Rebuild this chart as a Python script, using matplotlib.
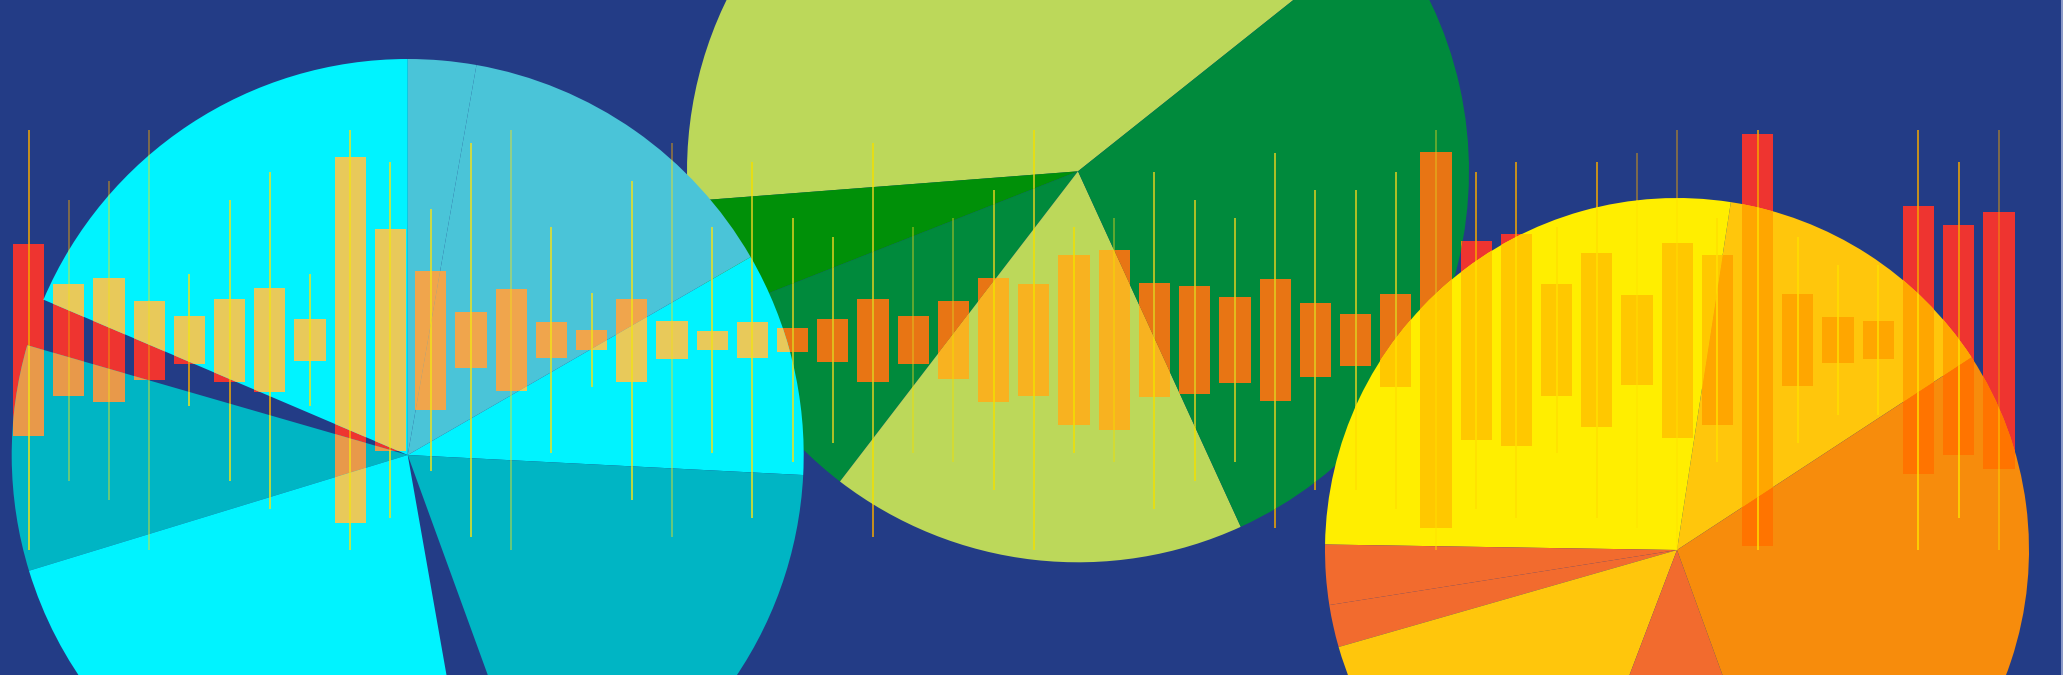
#abstract candles + pies poster
#three pie charts sit over a row of candlesticks, the candles change colour
#depending on which slice they sit under

import matplotlib.pyplot as plt
import matplotlib.colors as mcolors
from matplotlib.lines import Line2D

#candles are symmetric about the midline: half body size and half wick size
body = [96, 56, 62, 39.5, 23.7, 41.5, 52, 20.7, 183, 111,
        69.5, 27.8, 51.4, 18.3, 9.9, 41.5, 18.7, 9.5, 18, 12,
        21.5, 41.5, 23.7, 39.4, 61.8, 55.7, 84.6, 90, 57, 54,
        43, 61, 37, 26, 46.5, 188, 99.5, 106, 56.4, 87,
        45.4, 97.5, 85, 206, 46, 22.6, 18.7, 134, 115, 128.5]
wick = [210, 140.5, 159.5, 210, 65.6, 140.5, 168.5, 65.7, 210, 178,
        131, 197, 210, 112.6, 47, 159.5, 197, 112.6, 178, 122,
        103, 197, 112.6, 122, 150, 210, 112.6, 122, 168.5, 140.5,
        122, 187.5, 150, 150, 168.5, 210, 168.5, 178, 113, 178,
        187.5, 210, 122, 210, 103, 75, 75, 210, 178, 210]
#candles whose wick is lighter
faded = [1, 2, 3, 12, 16, 22, 23, 27, 35, 40, 41, 49]

#pie slices in degrees, counter clockwise from the start angle
left_sizes = [32.9, 50, 10, 66.9, 7, 33.1, 83, 10, 67.1]
left_start = -2.9
mid_sizes = [145.9, 17.1, 31, 62.1, 103.9]
mid_start = 38.5
right_sizes = [48, 97.9, 9.9, 7, 53.2, 40.8, 103.2]
right_start = 33.2

bg = '#233C86'
red = '#EE3430'

#slice colour, candle colour under it, wick colour under it
left_cols = ['#00F3FF', '#4AC4D8', '#4AC4D8', '#00F3FF', 'none', '#00B5C4', '#00F3FF', 'none', '#00B5C4']
left_bars = ['#E8C95A', '#F0A54C', '#F0A54C', '#E8C95A', None, '#E8994A', '#E8C95A', None, '#E8994A']
left_wick = '#F2E21A'
mid_cols = ['#BCD85A', '#009008', '#008A3C', '#BCD85A', '#008A3C']
mid_bars = ['#F8B220', '#E87514', '#E87514', '#F8B220', '#E87514']
mid_wick = ['#F2E000', '#E0D020', '#E0D020', '#F2E000', '#E0D020']
right_cols = ['#FFC60C', '#FFEE00', '#F26B2E', '#F26B2E', '#FFC60C', '#F26B2E', '#F78C0C']
right_bars = ['#FFA600', '#FFC800', '#F25A2A', '#F25A2A', '#FFA600', '#F25A2A', '#FF7400']
right_wick = '#FFE000'

W, H = 2063, 675
fig = plt.figure(figsize=(W/100, H/100), dpi=100, facecolor=bg)


def data_axes(z):
    ax = fig.add_axes([0, 0, 1, 1], zorder=z)
    ax.set_xlim(-0.711, 50.594)
    ax.set_ylim(-335, 340)
    ax.axis('off')
    return ax


def draw_candles(ax, bar_col, wick_col, clip=None):
    x = list(range(len(body)))
    wcols = [mcolors.to_rgba(wick_col, 0.55 if i in faded else 1.0) for i in x]
    lines = ax.vlines(x, [-w for w in wick], wick, colors=wcols, linewidth=1.1)
    bars = ax.bar(x, [2*b for b in body], bottom=[-b for b in body], width=0.776,
                  color=bar_col, linewidth=0)
    if clip is not None:
        lines.set_clip_path(clip)
        for b in bars:
            b.set_clip_path(clip)


def draw_pie(z, sizes, cols, start, centre, r):
    ax = fig.add_axes([0, 0, 1, 1], zorder=z)
    wedges, _ = ax.pie(sizes, colors=cols, startangle=start, center=centre,
                       radius=r, counterclock=True, wedgeprops={'linewidth': 0})
    ax.set_xlim(0, W)
    ax.set_ylim(0, H)
    ax.set_aspect('auto')
    ax.axis('off')
    return wedges


#base row of red candles
base = data_axes(0)
draw_candles(base, red, '#F5A800')

#green pie in the middle, behind the other two
wedges = draw_pie(1, mid_sizes, mid_cols, mid_start, (1078, H - 171.3), 391)
ax = data_axes(2)
for w, bc, wc in zip(wedges, mid_bars, mid_wick):
    draw_candles(ax, bc, wc, w)

#cyan pie on the left
wedges = draw_pie(3, left_sizes, left_cols, left_start, (407.7, H - 455), 396)
ax = data_axes(4)
for w, bc in zip(wedges, left_bars):
    if bc is not None:
        draw_candles(ax, bc, left_wick, w)

#yellow pie on the right
wedges = draw_pie(5, right_sizes, right_cols, right_start, (1677, H - 550), 352)
ax = data_axes(6)
for w, bc in zip(wedges, right_bars):
    draw_candles(ax, bc, right_wick, w)

#thin frame line on the right hand edge
fig.add_artist(Line2D([1 - 1.0/W, 1 - 1.0/W], [0, 1], color='#A0AED6', linewidth=1.2))

fig.savefig('out.png', dpi=100, facecolor=bg)
